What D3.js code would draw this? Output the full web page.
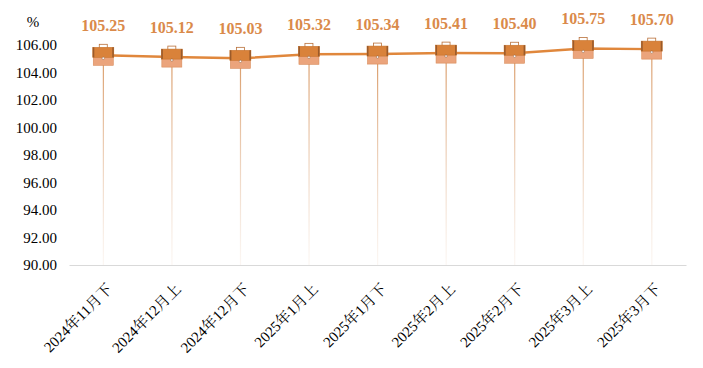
<!DOCTYPE html>
<html><head><meta charset="utf-8">
<script src="https://cdn.jsdelivr.net/npm/d3@7"></script>
<style>body{margin:0;background:#fff}</style>
</head><body>
<svg id="c" width="703" height="368"></svg>
<script>
const categories = ["2024年11月下","2024年12月上","2024年12月下","2025年1月上","2025年1月下","2025年2月上","2025年2月下","2025年3月上","2025年3月下"];
const values = [105.25,105.12,105.03,105.32,105.34,105.41,105.40,105.75,105.70];
const yTicks = [90,92,94,96,98,100,102,104,106];

const FONT = '"Liberation Serif"';
const FONTX = '"Liberation Serif","Noto Serif CJK SC"';
const svg = d3.select("#c");
const x = d3.scaleBand().domain(categories).range([69,686]);
const y = d3.scaleLinear().domain([90,106]).range([265,45]);
const cx = d => x(d) + x.bandwidth()/2;

const defs = svg.append("defs");
const g = defs.append("linearGradient").attr("id","vg").attr("x1",0).attr("y1",0).attr("x2",0).attr("y2",1);
g.append("stop").attr("offset","0%").attr("stop-color","#D99A66").attr("stop-opacity",1);
g.append("stop").attr("offset","100%").attr("stop-color","#E8C8B0").attr("stop-opacity",0.15);

// y axis labels
const ya = svg.append("g").attr("transform","translate(57,0)")
  .call(d3.axisLeft(y).tickValues(yTicks).tickSize(0).tickPadding(0).tickFormat(d3.format(".2f")));
ya.attr("font-family",FONT).attr("font-size",15);
ya.select(".domain").remove();
ya.selectAll("text").attr("font-family",FONT).attr("font-size",15).attr("fill","#000");

svg.append("text").attr("x",33).attr("y",27).attr("text-anchor","middle")
  .attr("font-family",FONT).attr("font-size",15).text("%");

// x axis
const xa = svg.append("g").attr("transform","translate(0,265)")
  .call(d3.axisBottom(x).tickSize(0).tickPadding(0));
xa.attr("font-family",FONTX).attr("font-size",15);
xa.select(".domain").attr("stroke","#d9d9d9").attr("stroke-width",1);
xa.selectAll("text")
  .attr("font-family",FONTX).attr("font-size",15).attr("fill","#000")
  .attr("text-anchor","end").attr("dy",0)
  .attr("transform","translate(10,25) rotate(-45)");

// vertical drop lines
svg.append("g").selectAll("rect").data(values).join("rect")
  .attr("x",(d,i)=>cx(categories[i])-0.5).attr("width",1.2)
  .attr("y",d=>y(d)).attr("height",d=>265-y(d))
  .attr("fill","url(#vg)");

// line
const line = d3.line().x((d,i)=>cx(categories[i])).y(d=>y(d));
svg.append("path").datum(values).attr("d",line).attr("fill","none")
  .attr("stroke","#E0873C").attr("stroke-width",2.5);

// briefcase icons
const icons = svg.append("g").selectAll("g").data(values).join("g")
  .attr("transform",(d,i)=>`translate(${cx(categories[i])},${y(d)})`);
icons.append("rect").attr("x",-4).attr("y",-11).attr("width",8).attr("height",4)
  .attr("fill","none").attr("stroke","#B9703A").attr("stroke-width",0.8);
icons.append("rect").attr("x",-10).attr("y",-1).attr("width",20).attr("height",11)
  .attr("fill","#EBA47C").attr("stroke","#D98C5A").attr("stroke-width",0.6);
icons.append("rect").attr("x",-10.5).attr("y",-8).attr("width",21).attr("height",10)
  .attr("fill","#D9823A").attr("stroke","#C8752F").attr("stroke-width",0.6);
icons.append("rect").attr("x",-10.5).attr("y",-8).attr("width",1.5).attr("height",10).attr("fill","#9A5A2A");
icons.append("rect").attr("x",9).attr("y",-8).attr("width",1.5).attr("height",10).attr("fill","#9A5A2A");
icons.append("circle").attr("cx",0).attr("cy",3).attr("r",1.2).attr("fill","#fff").attr("stroke","#8a5a3a").attr("stroke-width",0.5);

// value labels
svg.append("g").selectAll("text").data(values).join("text")
  .attr("x",(d,i)=>cx(categories[i])).attr("y",d=>y(d)-24)
  .attr("text-anchor","middle").attr("font-family",FONT)
  .attr("font-weight","bold").attr("font-size",16).attr("fill","#DA8A4A")
  .text(d=>d3.format(".2f")(d));
</script>
</body></html>
